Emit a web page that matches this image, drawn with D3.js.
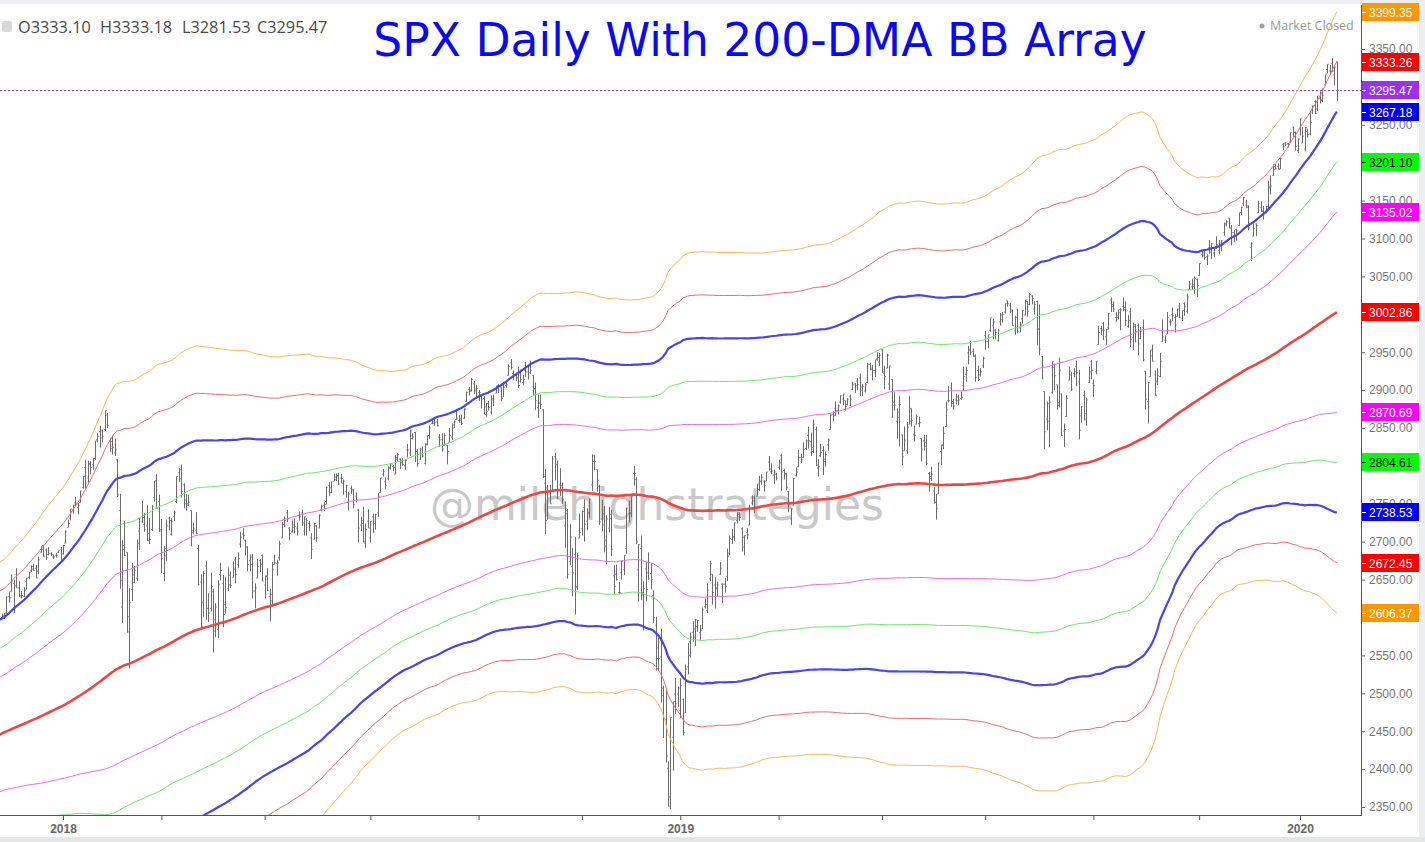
<!DOCTYPE html>
<html><head><meta charset="utf-8">
<script src="https://cdn.jsdelivr.net/npm/d3@7"></script>
<style>html,body{margin:0;padding:0;background:#fff;overflow:hidden}</style>
</head><body>
<svg id="c" width="1425" height="842"></svg>
<script>
// ---- closes before the visible range (Feb 1 - Nov 20 2017), used for the 200-day window ----
const priorCloses = [
 2279,2281,2297,2293,2293,2295,2307,2316,2328,2337,2350,2347,2351,2366,2363,2364,2367,2370,2364,
 2396,2382,2383,2375,2368,2363,2365,2373,2373,2365,2385,2381,2378,2374,2344,2349,2346,2344,2342,2359,2361,2368,2363,
 2359,2360,2353,2358,2355,2357,2353,2344,2329,2349,2342,2338,2355,2349,2374,2389,2388,2389,2384,
 2388,2391,2389,2389,2399,2399,2396,2400,2394,2391,2402,2401,2357,2366,2382,2394,2399,2404,2415,2416,2413,2412,
 2430,2439,2437,2429,2433,2434,2432,2430,2440,2437,2432,2433,2453,2437,2436,2434,2438,2439,2419,2440,2419,2423,
 2429,2432,2410,2425,2428,2426,2443,2447,2459,2459,2460,2473,2473,2472,2470,2477,2477,2475,2472,2470,
 2476,2478,2472,2476,2480,2475,2474,2438,2441,2466,2464,2468,2430,2426,2428,2453,2444,2438,2443,2444,2446,2457,2472,
 2477,2458,2465,2465,2461,2488,2496,2498,2495,2500,2503,2506,2508,2501,2502,2497,2497,2507,2510,2519,
 2529,2534,2537,2552,2549,2545,2551,2555,2551,2553,2557,2560,2561,2562,2575,2565,2569,2557,2560,2581,2573,2575,
 2579,2580,2588,2591,2590,2594,2585,2582,2584,2579,2565,2585,2579,2582
];
// ---- visible daily bars, Nov 21 2017 - Jan 24 2020 (one line per month) ----
const opens = [
 2589,2600,2600,2603,2606,2628,2634,
 2645,2657,2639,2627,2628,2647,2653,2662,2667,2665,2661,2686,2695,2689,2683,2684,2680,2682,2686,2690,
 2684,2698,2719,2731,2742,2751,2745,2752,2771,2798,2784,2802,2802,2810,2835,2845,2846,2848,2867,2833,2832,
 2817,2808,2741,2614,2690,2686,2601,2637,2646,2652,2714,2727,2723,2721,2711,2716,2758,2781,2753,
 2716,2658,2681,2731,2710,2733,2753,2791,2795,2775,2755,2750,2741,2715,2715,2691,2647,2620,2668,2612,2612,
 2634,2597,2584,2657,2645,2617,2638,2643,2653,2676,2670,2697,2710,2702,2692,2675,2680,2635,2652,2675,2682,
 2643,2654,2628,2622,2670,2671,2679,2705,2723,2738,2718,2713,2719,2718,2735,2738,2714,2730,2724,2705,2703,2721,
 2718,2742,2748,2753,2774,2765,2780,2785,2787,2784,2777,2766,2752,2770,2769,2760,2742,2722,2728,2698,2727,
 2705,2733,2724,2738,2765,2789,2779,2783,2797,2799,2789,2811,2809,2805,2800,2821,2817,2836,2844,2819,2809,
 2822,2803,2829,2840,2856,2856,2858,2838,2835,2827,2827,2831,2838,2854,2861,2860,2860,2863,2885,2901,2900,2908,2899,
 2897,2892,2889,2868,2882,2871,2889,2896,2906,2903,2891,2906,2919,2936,2922,2921,2917,2911,2910,
 2926,2924,2932,2919,2902,2877,2882,2874,2777,2771,2763,2767,2812,2802,2775,2774,2721,2737,2674,2667,2683,2640,2705,
 2717,2745,2727,2738,2775,2806,2795,2773,2730,2737,2694,2718,2731,2655,2657,2633,2659,2663,2691,2737,2737,
 2790,2782,2663,2691,2630,2664,2659,2658,2629,2590,2560,2548,2497,2465,2401,2363,2442,2499,2499,
 2477,2492,2474,2535,2568,2580,2574,2588,2580,2585,2614,2609,2651,2657,2643,2638,2657,2644,2644,2654,2685,
 2703,2706,2728,2736,2717,2693,2712,2722,2751,2744,2760,2769,2779,2780,2780,2805,2792,2788,2789,
 2798,2814,2794,2790,2766,2730,2748,2787,2799,2811,2811,2823,2840,2832,2819,2848,2797,2813,2820,2809,2828,
 2848,2868,2876,2873,2884,2888,2886,2881,2892,2901,2908,2912,2916,2904,2899,2910,2934,2929,2926,2941,2937,
 2953,2922,2929,2908,2914,2880,2859,2864,2841,2820,2820,2855,2859,2841,2855,2856,2836,2833,2831,2790,2786,2767,
 2752,2763,2819,2828,2852,2886,2903,2882,2887,2886,2889,2906,2921,2949,2952,2951,2945,2926,2920,2932,
 2972,2964,2979,2985,2979,2966,2990,2999,3003,3018,3012,3006,2978,3007,2982,2994,2999,3017,3013,3024,3007,3017,
 2981,2944,2898,2862,2859,2897,2930,2907,2880,2895,2846,2865,2913,2920,2922,2931,2911,2866,2893,2861,2910,2938,
 2909,2924,2960,2981,2988,2971,2982,3019,3013,2996,2996,3002,3010,3009,2984,3003,2969,2986,2985,2968,
 2983,2925,2885,2918,2945,2920,2911,2918,2964,2966,2974,2990,3000,2996,2997,3011,2994,3014,3004,3032,3036,3039,3046,
 3051,3079,3081,3076,3088,3082,3081,3089,3084,3091,3108,3118,3127,3114,3108,3112,3117,3134,3146,3148,
 3143,3088,3103,3119,3134,3141,3136,3135,3142,3167,3183,3195,3195,3192,3224,3226,3225,3227,3247,3240,3216,
 3245,3226,3218,3241,3238,3267,3281,3271,3285,3282,3303,3323,3321,3331,3316,3333.10
];
const highs = [
 2601,2602,2605,2606,2628,2634,2657,
 2650,2665,2648,2635,2640,2652,2660,2669,2671,2669,2680,2694,2695,2691,2693,2686,2683,2685,2688,2693,
 2696,2715,2729,2743,2749,2759,2751,2767,2787,2808,2807,2806,2810,2833,2843,2853,2848,2873,2870,2837,2840,
 2836,2809,2763,2702,2727,2686,2639,2672,2668,2703,2731,2754,2738,2748,2731,2748,2780,2789,2762,
 2730,2694,2729,2733,2731,2741,2786,2797,2802,2777,2763,2762,2741,2725,2739,2696,2657,2661,2675,2632,2659,
 2638,2619,2649,2672,2656,2654,2666,2661,2674,2680,2686,2713,2718,2702,2694,2683,2684,2645,2677,2677,2683,
 2655,2665,2638,2673,2683,2676,2701,2726,2733,2742,2719,2728,2731,2725,2740,2742,2733,2731,2727,2711,2725,2722,
 2736,2749,2752,2772,2779,2779,2790,2790,2791,2789,2782,2775,2766,2774,2769,2765,2743,2733,2746,2724,2743,
 2727,2737,2737,2764,2784,2796,2785,2799,2804,2801,2814,2817,2810,2810,2809,2829,2848,2843,2845,2822,2824,
 2826,2830,2840,2853,2863,2862,2862,2842,2843,2843,2827,2850,2856,2860,2874,2867,2868,2876,2898,2904,2916,2912,2907,
 2900,2894,2892,2883,2886,2893,2894,2906,2908,2904,2911,2912,2934,2941,2926,2923,2931,2927,2920,
 2937,2932,2939,2920,2910,2894,2894,2875,2796,2775,2775,2813,2817,2807,2797,2778,2753,2743,2723,2692,2706,2685,2737,
 2741,2756,2744,2757,2815,2814,2795,2775,2755,2747,2735,2746,2742,2669,2670,2647,2675,2682,2745,2754,2760,
 2800,2785,2697,2708,2648,2674,2686,2671,2636,2601,2573,2585,2510,2505,2410,2468,2489,2520,2509,
 2520,2493,2538,2566,2580,2595,2598,2597,2590,2613,2625,2645,2675,2657,2653,2647,2673,2645,2652,2691,2708,
 2717,2725,2739,2739,2719,2708,2718,2749,2761,2761,2776,2787,2789,2781,2792,2813,2803,2795,2791,
 2808,2816,2796,2791,2767,2744,2784,2798,2821,2816,2831,2835,2852,2844,2861,2852,2809,2829,2826,2819,2836,
 2869,2872,2885,2881,2893,2895,2886,2889,2894,2911,2909,2916,2922,2908,2909,2936,2936,2933,2940,2950,2949,
 2954,2932,2948,2932,2914,2897,2876,2892,2841,2852,2858,2892,2876,2853,2868,2865,2836,2841,2841,2792,2799,2772,
 2763,2804,2828,2852,2885,2905,2910,2888,2895,2894,2898,2931,2931,2958,2965,2955,2947,2932,2929,2944,
 2978,2973,2995,2994,2980,2981,3002,3003,3014,3018,3015,3006,2998,3007,2990,3005,3019,3017,3028,3025,3017,3018,
 3013,2945,2898,2885,2892,2938,2935,2907,2943,2895,2856,2893,2931,2924,2929,2939,2927,2879,2899,2890,2931,2940,
 2914,2938,2985,2985,2990,2980,3001,3022,3017,3003,3006,3008,3022,3017,2999,3008,2989,2987,2988,2983,
 2993,2925,2911,2953,2960,2926,2929,2949,2993,2972,3003,2994,3009,3000,3007,3015,3005,3016,3027,3044,3047,3050,3047,
 3067,3085,3084,3079,3098,3094,3088,3103,3098,3098,3121,3124,3127,3118,3111,3113,3134,3142,3155,3151,
 3144,3095,3120,3120,3150,3149,3143,3143,3176,3183,3198,3198,3199,3206,3226,3227,3226,3240,3247,3241,3232,
 3258,3247,3247,3245,3268,3275,3283,3288,3294,3298,3316,3330,3329,3338,3327,3333.18
];
const lows = [
 2589,2595,2599,2598,2604,2620,2634,
 2606,2639,2627,2625,2627,2637,2651,2660,2662,2652,2657,2686,2680,2676,2682,2681,2677,2679,2685,2673,
 2683,2698,2719,2728,2737,2747,2736,2752,2770,2769,2778,2789,2795,2808,2831,2824,2831,2846,2850,2818,2815,
 2813,2759,2638,2593,2681,2580,2533,2622,2645,2648,2689,2725,2713,2701,2697,2714,2753,2744,2713,
 2659,2648,2675,2715,2708,2727,2751,2779,2758,2744,2741,2747,2694,2710,2710,2643,2585,2601,2597,2594,2608,
 2554,2574,2573,2649,2587,2605,2635,2639,2653,2645,2665,2692,2703,2682,2661,2661,2625,2612,2652,2660,2648,
 2625,2635,2595,2616,2670,2655,2675,2705,2719,2726,2702,2712,2711,2708,2728,2721,2708,2708,2714,2677,2703,2700,
 2718,2740,2740,2749,2760,2764,2780,2780,2775,2777,2762,2758,2741,2763,2744,2752,2699,2714,2699,2692,2718,
 2699,2712,2716,2733,2765,2786,2770,2781,2795,2793,2789,2806,2796,2800,2795,2811,2813,2835,2805,2799,2808,
 2811,2802,2827,2836,2855,2853,2852,2825,2819,2827,2802,2831,2834,2850,2861,2857,2854,2862,2885,2893,2898,2895,2891,
 2886,2876,2868,2865,2873,2868,2879,2896,2896,2886,2891,2903,2919,2927,2913,2912,2903,2910,2907,
 2917,2914,2921,2893,2874,2863,2875,2784,2710,2729,2750,2767,2781,2756,2760,2750,2692,2651,2669,2628,2604,2636,2705,
 2708,2700,2715,2731,2767,2794,2766,2722,2714,2686,2670,2712,2681,2631,2649,2631,2650,2656,2684,2725,2732,
 2774,2697,2621,2623,2583,2622,2650,2637,2593,2530,2529,2488,2441,2409,2351,2347,2398,2473,2482,
 2467,2444,2474,2525,2547,2568,2562,2581,2570,2585,2612,2606,2648,2617,2612,2628,2657,2619,2633,2648,2682,
 2697,2701,2724,2727,2687,2682,2703,2722,2748,2738,2760,2767,2775,2766,2780,2794,2789,2776,2781,
 2795,2767,2782,2768,2739,2722,2748,2786,2799,2804,2811,2821,2823,2813,2817,2800,2786,2812,2788,2799,2820,
 2848,2859,2866,2868,2882,2880,2873,2880,2879,2900,2896,2900,2892,2892,2897,2909,2926,2913,2917,2939,2932,
 2923,2901,2929,2900,2863,2873,2836,2826,2801,2820,2816,2855,2852,2832,2855,2851,2806,2820,2801,2766,2780,2750,
 2729,2763,2801,2822,2852,2884,2878,2874,2881,2880,2887,2899,2911,2934,2946,2944,2911,2912,2918,2929,
 2953,2955,2977,2967,2967,2964,2985,2989,3001,3010,3002,2985,2973,2975,2976,2988,2999,2997,3012,3013,3000,2959,
 2946,2914,2822,2847,2825,2895,2900,2874,2877,2840,2825,2865,2913,2899,2917,2905,2835,2857,2860,2853,2909,2914,
 2891,2921,2960,2973,2966,2960,2980,3003,3003,2990,2993,2979,3004,2985,2982,2957,2953,2963,2946,2967,
 2938,2874,2856,2918,2938,2893,2907,2917,2964,2962,2974,2985,2991,2976,2997,2995,2991,2998,3001,3032,3032,3027,3023,
 3051,3075,3072,3065,3080,3073,3075,3086,3079,3083,3104,3116,3113,3091,3095,3097,3117,3131,3143,3140,
 3111,3070,3103,3103,3134,3135,3125,3133,3138,3158,3183,3191,3191,3192,3217,3222,3220,3227,3234,3216,3213,
 3236,3226,3215,3233,3236,3264,3264,3268,3278,3280,3302,3318,3316,3320,3302,3281.53
];
const closes = [
 2599,2597,2602,2601,2627,2626,2648,
 2642,2639,2629,2629,2636,2652,2660,2664,2662,2652,2676,2690,2681,2679,2684,2683,2680,2682,2688,2674,
 2695,2713,2724,2743,2748,2751,2748,2767,2786,2777,2803,2798,2810,2833,2839,2837,2839,2873,2853,2823,2824,
 2822,2762,2649,2695,2682,2581,2620,2656,2662,2698,2731,2732,2716,2701,2703,2747,2780,2744,2714,
 2678,2691,2721,2728,2727,2739,2786,2783,2766,2750,2748,2752,2712,2717,2711,2643,2588,2658,2612,2606,2641,
 2582,2614,2644,2662,2604,2613,2656,2642,2664,2657,2678,2706,2708,2693,2670,2670,2635,2639,2667,2670,2648,
 2655,2636,2630,2663,2672,2672,2697,2723,2728,2730,2711,2722,2720,2713,2733,2725,2733,2728,2721,2690,2724,2705,
 2735,2747,2749,2772,2771,2779,2782,2787,2776,2783,2780,2774,2763,2767,2749,2755,2718,2724,2700,2716,2718,
 2727,2713,2736,2760,2784,2793,2774,2798,2801,2798,2809,2815,2804,2802,2807,2821,2846,2838,2819,2803,2816,
 2813,2828,2840,2850,2858,2857,2853,2834,2822,2840,2819,2840,2850,2858,2863,2862,2856,2875,2897,2898,2914,2901,2902,
 2897,2888,2878,2872,2877,2887,2888,2905,2905,2889,2904,2907,2931,2930,2920,2916,2906,2914,2914,
 2924,2923,2926,2902,2886,2884,2881,2786,2728,2767,2750,2809,2809,2769,2768,2756,2741,2657,2706,2659,2641,2682,2712,
 2740,2723,2738,2756,2814,2806,2781,2726,2722,2702,2730,2736,2690,2641,2650,2633,2674,2682,2744,2738,2760,
 2790,2700,2696,2633,2638,2637,2651,2650,2600,2546,2546,2507,2467,2417,2351,2468,2489,2486,2507,
 2510,2448,2532,2550,2574,2585,2597,2596,2583,2610,2617,2636,2671,2633,2639,2643,2665,2644,2641,2681,2704,
 2707,2725,2738,2732,2706,2708,2709,2744,2754,2746,2776,2780,2785,2774,2792,2796,2793,2792,2784,
 2804,2792,2789,2771,2749,2743,2783,2792,2811,2808,2822,2833,2833,2824,2855,2801,2799,2818,2806,2815,2834,
 2867,2867,2873,2879,2893,2895,2878,2888,2888,2907,2906,2907,2900,2905,2907,2934,2927,2926,2940,2943,2946,
 2924,2918,2946,2932,2884,2880,2871,2881,2812,2834,2851,2876,2860,2840,2865,2857,2822,2826,2803,2783,2789,2752,
 2744,2804,2827,2843,2874,2886,2885,2879,2891,2887,2890,2918,2926,2954,2950,2945,2917,2914,2924,2942,
 2964,2973,2996,2990,2976,2979,2993,3000,3014,3014,3004,2985,2996,2977,2986,3005,3019,3004,3026,3021,3013,2980,
 2954,2932,2845,2882,2884,2938,2919,2883,2926,2840,2848,2889,2924,2901,2925,2923,2847,2878,2869,2887,2924,2926,
 2906,2938,2976,2979,2979,2980,3001,3010,3007,2998,3006,3006,3006,2992,2992,2967,2984,2977,2961,2977,
 2940,2888,2910,2953,2938,2893,2919,2938,2970,2966,2996,2990,2998,2986,3007,2996,3005,3010,3023,3040,3037,3047,3038,
 3067,3078,3075,3077,3085,3093,3087,3092,3094,3097,3120,3122,3120,3108,3104,3110,3134,3141,3154,3141,
 3114,3093,3113,3117,3146,3136,3133,3142,3169,3169,3191,3192,3191,3206,3221,3224,3224,3240,3240,3221,3231,
 3258,3235,3246,3237,3253,3275,3265,3288,3283,3289,3317,3330,3321,3321,3326,3295.47
];
const firstDate = "2017-11-21";
const holidays = ["2017-11-23","2017-12-25","2018-01-01","2018-01-15","2018-02-19","2018-03-30","2018-05-28",
 "2018-07-04","2018-09-03","2018-11-22","2018-12-05","2018-12-25","2019-01-01","2019-01-21","2019-02-18",
 "2019-04-19","2019-05-27","2019-07-04","2019-09-02","2019-11-28","2019-12-25","2020-01-01","2020-01-20"];
const maPeriod = 200;
const bandMultipliers = [3, 2.5, 2, 1.5, 1, 0, -1, -1.5, -2, -2.5, -3];
const bandLabelValues = [3399.35, 3333.26, 3267.18, 3201.10, 3135.02, 3002.86, 2870.69, 2804.61, 2738.53, 2672.45, 2606.37];
const lastPrice = 3295.47;
const priceTicks = [2350,2400,2450,2500,2550,2600,2650,2700,2750,2800,2850,2900,2950,3000,3050,3100,3150,3200,3250,3300,3350];
const headerItems = [["O","3333.10"],["H","3333.18"],["L","3281.53"],["C","3295.47"]];
const titleText = "SPX Daily With 200-DMA BB Array";
const watermarkText = "@milehighstrategies";

// ---------- styles ----------
const bandStyle = {
  "3":   {stroke:"#ffb553", w:1,   label:"#ff9800", text:"#fff"},
  "2.5": {stroke:"#f26868", w:1,   label:"#ff0000", text:"#fff"},
  "2":   {stroke:"#4646ea", w:2.2, label:"#0000ff", text:"#fff"},
  "1.5": {stroke:"#6ae86a", w:1,   label:"#00ff00", text:"#000"},
  "1":   {stroke:"#ee66ee", w:1,   label:"#ff00ff", text:"#fff"},
  "0":   {stroke:"#f04545", w:2.6, label:"#ff0000", text:"#fff"}
};

const W = 1425, H = 842, plotRight = 1361, plotTop = 5, plotBottom = 815;
const svg = d3.select("#c");

// dates of the visible bars
function makeDates(start, n, hol) {
  const set = new Set(hol), out = [];
  const d = new Date(start + "T12:00:00Z");
  while (out.length < n) {
    const wd = d.getUTCDay(), s = d.toISOString().slice(0, 10);
    if (wd !== 0 && wd !== 6 && !set.has(s)) out.push(new Date(d));
    d.setUTCDate(d.getUTCDate() + 1);
  }
  return out;
}
const dates = makeDates(firstDate, closes.length, holidays);

const x = d3.scaleLinear().domain([27, 530]).range([63, 1300]);
const y = d3.scaleLinear().domain([2350, 3350]).range([807, 49]);

// 200-day mean and population std
const all = priorCloses.concat(closes);
const stats = closes.map((c, i) => {
  const g = priorCloses.length + i;
  const win = all.slice(g - maPeriod + 1, g + 1);
  const m = d3.mean(win);
  const sd = Math.sqrt(d3.mean(win, v => (v - m) * (v - m)));
  return {i, m, sd};
});

// background frame
svg.append("rect").attr("width", W).attr("height", H).attr("fill", "#fff");
svg.append("rect").attr("x", 0).attr("y", 0).attr("width", W).attr("height", 4).attr("fill", "#eceef2");
svg.append("rect").attr("x", 1419).attr("y", 0).attr("width", 6).attr("height", H).attr("fill", "#eceef2");
svg.append("rect").attr("x", 0).attr("y", 837).attr("width", W).attr("height", 5).attr("fill", "#e4e6ea");

svg.append("defs").append("clipPath").attr("id", "plot")
  .append("rect").attr("x", 0).attr("y", plotTop).attr("width", plotRight).attr("height", plotBottom - plotTop);

const plot = svg.append("g").attr("clip-path", "url(#plot)");

// watermark
plot.append("text").attr("x", 657).attr("y", 520).attr("text-anchor", "middle")
  .attr("font-family", "DejaVu Sans, Verdana, sans-serif").attr("font-size", 44)
  .attr("fill", "#c9c9c9").text(watermarkText);

// last price dotted line
plot.append("line").attr("x1", 0).attr("x2", plotRight)
  .attr("y1", Math.round(y(lastPrice)) + 0.5).attr("y2", Math.round(y(lastPrice)) + 0.5)
  .attr("stroke", "#a33df2").attr("stroke-width", 1).attr("stroke-dasharray", "2,2");

// OHLC bars
let p = "";
closes.forEach((c, i) => {
  const xi = Math.round(x(i)) + 0.5;
  p += `M${xi},${y(highs[i]).toFixed(1)}V${y(lows[i]).toFixed(1)}`;
  p += `M${xi - 1.2},${y(opens[i]).toFixed(1)}H${xi}`;
  p += `M${xi},${y(c).toFixed(1)}H${xi + 1.2}`;
});
plot.append("path").attr("d", p).attr("fill", "none").attr("stroke", "#6b6b6b").attr("stroke-width", 1);

// bands
const line = d3.line().x(d => x(d.i)).y(d => y(d.v)).curve(d3.curveLinear);
const order = [3, -3, 2.5, -2.5, 1.5, -1.5, 1, -1, 2, -2, 0];
order.forEach(k => {
  const st = bandStyle[String(Math.abs(k))];
  const pts = stats.map(s => ({i: s.i, v: s.m + k * s.sd}));
  plot.append("path").attr("d", line(pts)).attr("fill", "none")
    .attr("stroke", st.stroke).attr("stroke-width", st.w).attr("stroke-linejoin", "round");
});

// axes frame lines
svg.append("line").attr("x1", plotRight + 0.5).attr("x2", plotRight + 0.5).attr("y1", plotTop).attr("y2", plotBottom)
  .attr("stroke", "#555").attr("stroke-width", 1);
svg.append("line").attr("x1", 0).attr("x2", plotRight + 1).attr("y1", plotBottom + 0.5).attr("y2", plotBottom + 0.5)
  .attr("stroke", "#555").attr("stroke-width", 1);

// value labels on the price scale
const labels = bandMultipliers.map((k, j) => ({v: bandLabelValues[j], st: bandStyle[String(Math.abs(k))]}));
labels.push({v: lastPrice, st: {label: "#9d2ff5", text: "#fff"}});

// right price axis (a tick label fully covered by a value label is not drawn)
const visibleTicks = priceTicks.filter(t => labels.every(l => Math.abs(y(t) - y(l.v)) >= 6));
const yAxis = d3.axisRight(y).tickValues(visibleTicks).tickFormat(d3.format(".2f")).tickSize(4).tickPadding(4).tickSizeOuter(0);
const ya = svg.append("g").attr("transform", `translate(${plotRight},0)`).call(yAxis);
ya.select(".domain").remove();
ya.selectAll("line").attr("stroke", "#666");
ya.selectAll("text").attr("font-family", "Liberation Sans, Arial, sans-serif").attr("font-size", 12).attr("fill", "#777");

// bottom time axis (every other month, year label in January)
const tickIdx = [];
dates.forEach((d, i) => {
  if (i > 0 && d.getUTCMonth() !== dates[i - 1].getUTCMonth() && d.getUTCMonth() % 2 === 0) tickIdx.push(i);
});
const xAxis = d3.axisBottom(x).tickValues(tickIdx)
  .tickFormat(i => dates[i].getUTCMonth() === 0 ? String(dates[i].getUTCFullYear()) : "")
  .tickSize(5).tickPadding(4).tickSizeOuter(0);
const xa = svg.append("g").attr("transform", `translate(0,${plotBottom})`).call(xAxis);
xa.select(".domain").remove();
xa.selectAll("line").attr("stroke", "#555");
xa.selectAll("text").attr("font-family", "Liberation Sans, Arial, sans-serif").attr("font-size", 12)
  .attr("font-weight", "bold").attr("fill", "#666");

const lg = svg.append("g");
labels.forEach(l => {
  const yc = Math.round(y(l.v));
  lg.append("rect").attr("x", plotRight + 1).attr("y", yc - 9).attr("width", 57).attr("height", 18).attr("fill", l.st.label);
  lg.append("line").attr("x1", plotRight + 1).attr("x2", plotRight + 5).attr("y1", yc + 0.5).attr("y2", yc + 0.5)
    .attr("stroke", l.st.text).attr("stroke-width", 1);
  lg.append("text").attr("x", plotRight + 8).attr("y", yc + 4.5)
    .attr("font-family", "Liberation Sans, Arial, sans-serif").attr("font-size", 12)
    .attr("fill", l.st.text).text(l.v.toFixed(2));
});

// header OHLC
const hx = [18, 100, 182, 257];
svg.append("rect").attr("x", 2).attr("y", 21).attr("width", 10).attr("height", 11).attr("rx", 2).attr("fill", "#d8d8d8");
headerItems.forEach((h, j) => {
  svg.append("text").attr("x", hx[j]).attr("y", 33)
    .attr("font-family", "Open Sans, sans-serif").attr("font-size", 16.3).attr("fill", "#4a4a4a")
    .text(h[0] + h[1]);
});

// market closed
svg.append("circle").attr("cx", 1262).attr("cy", 26).attr("r", 2.5).attr("fill", "#a0a0a0");
svg.append("text").attr("x", 1270).attr("y", 30).attr("font-family", "Open Sans, sans-serif")
  .attr("font-size", 12.5).attr("fill", "#9a9a9a").text("Market Closed");

// title
svg.append("text").attr("x", 760).attr("y", 56).attr("text-anchor", "middle")
  .attr("font-family", "DejaVu Sans, Verdana, sans-serif").attr("font-size", 45.6)
  .attr("fill", "#0a0aee").text(titleText);
</script>
</body></html>
